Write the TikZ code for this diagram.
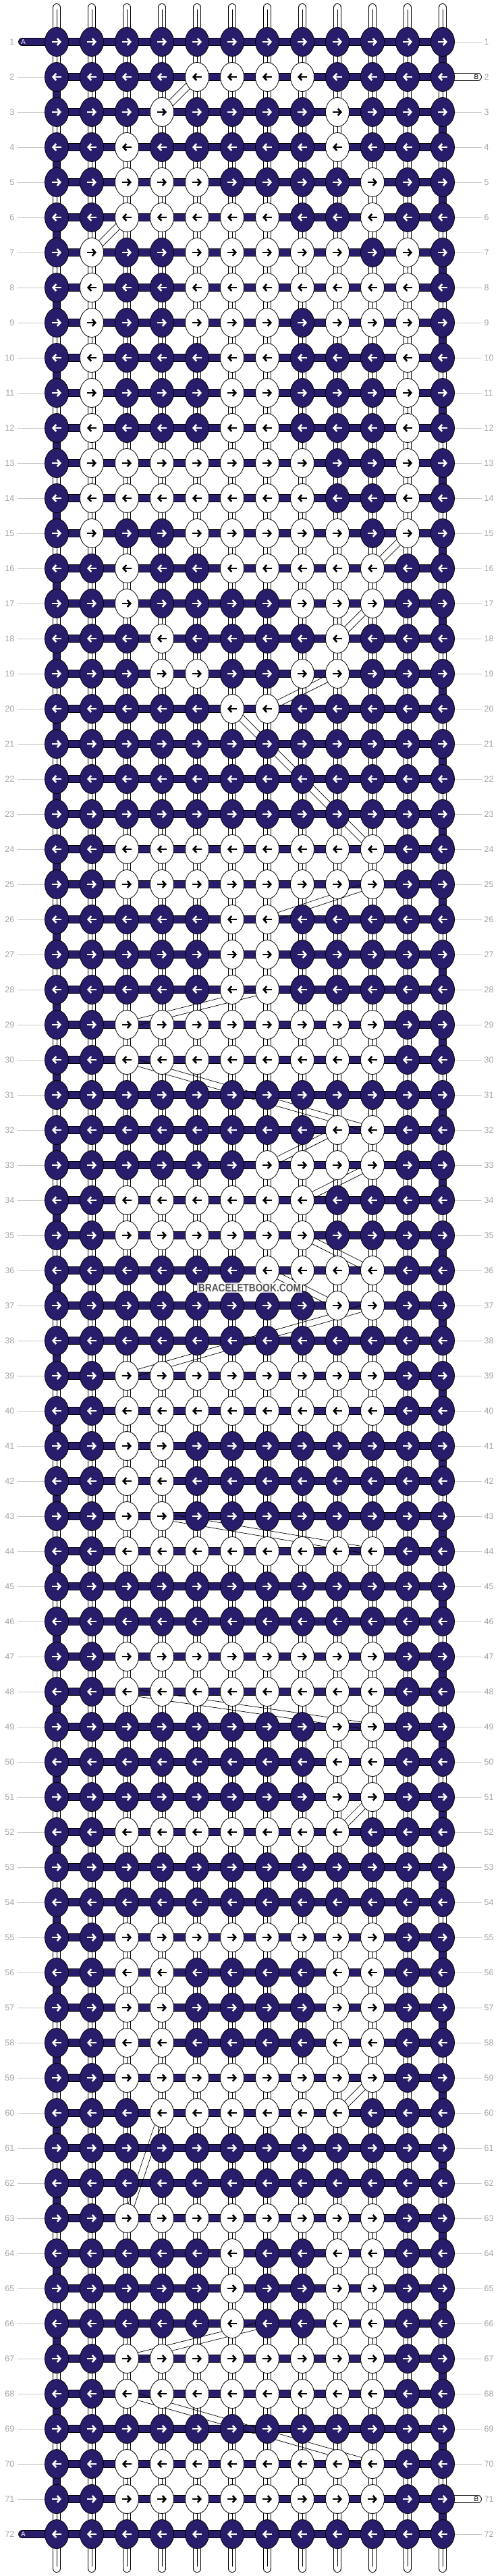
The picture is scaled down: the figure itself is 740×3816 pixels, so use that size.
\documentclass[tikz,border=0pt]{standalone}
\usepackage{fontspec}
\setmainfont{Liberation Sans}
\usepackage{xstring}
\usepackage{graphicx}
\usetikzlibrary{arrows.meta,shapes.geometric,calc}
\definecolor{thr}{RGB}{39,29,107}
\definecolor{labc}{RGB}{165,165,165}
\definecolor{linec}{RGB}{200,200,200}
\definecolor{wmark}{RGB}{85,85,85}
\pgfdeclarelayer{strips}
\pgfdeclarelayer{bars}
\pgfdeclarelayer{deco}
\pgfdeclarelayer{front}
\pgfsetlayers{strips,bars,deco,main,front}
\tikzset{
  knotbase/.style={ellipse, minimum width=35pt, minimum height=43pt, inner sep=0pt, draw=black, line width=0.8pt},
  knotD/.style={knotbase, fill=thr},
  knotW/.style={knotbase, fill=white},
  arrowD/.style={white, line width=2.6pt, -{Straight Barb[length=4.5pt,width=10pt]}},
  arrowW/.style={black, line width=2.6pt, -{Straight Barb[length=4.5pt,width=10pt]}},
  strip/.style={draw=black, line width=0.7pt, double=white, double distance=10.4pt, line cap=round},
  midline/.style={draw=black, line width=0.5pt},
  turn/.style={draw=black, line width=0.7pt, double=thr, double distance=10.4pt},
  hbar/.style={draw=black, line width=0.7pt, double=thr, double distance=10.4pt},
  astub/.style={hbar, line cap=round},
  bstub/.style={draw=black, line width=0.7pt, double=white, double distance=10.4pt, line cap=round},
  rowlab/.style={text=labc, font=\fontsize{12.5}{14}\selectfont, inner sep=0pt},
  stublab/.style={font=\fontsize{10}{10}\selectfont, inner sep=0pt},
  labline/.style={draw=linec, line width=0.9pt},
  decoy/.style={draw=black, line width=0.7pt},
}
\begin{document}
\begin{tikzpicture}[x=1pt,y=1pt]
\useasboundingbox (0,0) rectangle (740,-3816);
% knots
\foreach \row [count=\i] in {
111111111111,111100001111,111011110111,110111110111,110001111011,110000011011,
101100000101,101100000001,101100010001,101110011101,101110011101,101110011101,
100000001101,100000001101,101100000101,110110000011,110111100011,111011110111,
111001100111,111110011111,111111111111,111111111111,111111111111,110000000011,
110000000011,111110011111,111110011111,111110011111,110000000011,110000000011,
111111111111,111111110011,111111000011,110000001111,110000001111,111111000011,
111111110011,111111111111,110000000011,110000000011,110011111111,110011111111,
110011111111,110000000011,111111111111,111111111111,110000000011,110000000011,
111111110011,111111110011,111111110011,110000000111,111111111111,111111111111,
110000000011,110011110011,110011110011,110011110011,110000000011,111000000111,
111111111111,111111111111,110000000011,111110110011,111110110011,111110110011,
110000000011,110000000011,111111111111,110000000011,110000000011,111111111111}{
  \pgfmathsetmacro\yy{-62-52*(\i-1)}
  \foreach \c in {1,...,12}{
    \StrChar{\row}{\c}[\k]
    \pgfmathsetmacro\xx{84+52*(\c-1)}
    \ifnum\k=1
      \node[knotD] (k-\i-\c) at (\xx,\yy) {};
      \ifodd\i\relax
        \draw[arrowD] ([xshift=-7pt]k-\i-\c.center) -- ([xshift=7pt]k-\i-\c.center);
      \else
        \draw[arrowD] ([xshift=7pt]k-\i-\c.center) -- ([xshift=-7pt]k-\i-\c.center);
      \fi
    \else
      \node[knotW] (k-\i-\c) at (\xx,\yy) {};
      \ifodd\i\relax
        \draw[arrowW] ([xshift=-7pt]k-\i-\c.center) -- ([xshift=7pt]k-\i-\c.center);
      \else
        \draw[arrowW] ([xshift=7pt]k-\i-\c.center) -- ([xshift=-7pt]k-\i-\c.center);
      \fi
    \fi
  }
}
% vertical threads
\begin{pgfonlayer}{strips}
  \fill[white] (0,0) rectangle (740,-3816);
  \foreach \c in {1,...,12}{
    \pgfmathsetmacro\xx{84+52*(\c-1)}
    \coordinate (top-\c) at (\xx,-11);
    \coordinate (bot-\c) at (\xx,-3805);
    \draw[strip] (top-\c) -- (bot-\c);
    \draw[midline] ([yshift=-3pt]top-\c) -- ([yshift=3pt]bot-\c);
  }
\end{pgfonlayer}
% horizontal threads, turns, labels
\begin{pgfonlayer}{bars}
  \foreach \i in {1,...,72}{
    \draw[hbar] (k-\i-1.center) -- (k-\i-12.center);
    \pgfmathsetmacro\yy{-62-52*(\i-1)}
    \node[rowlab, anchor=east] (ll-\i) at (21.5,\yy) {\i};
    \node[rowlab, anchor=west] (rl-\i) at (717.5,\yy) {\i};
  }
  \foreach \i in {1,...,71}{
    \pgfmathtruncatemacro\j{\i+1}
    \ifodd\i\relax
      \draw[turn] (k-\i-12.center) -- (k-\j-12.center);
    \else
      \draw[turn] (k-\i-1.center) -- (k-\j-1.center);
    \fi
  }
  \foreach \i in {2,...,71}{
    \draw[labline] ([xshift=4.5pt]ll-\i.east) -- (k-\i-1.west);
  }
  \foreach \i in {1,3,4,...,70,72}{
    \draw[labline] (k-\i-12.east) -- ([xshift=-4pt]rl-\i.west);
  }
  \foreach \i in {1,72}{
    \pgfmathsetmacro\yy{-62-52*(\i-1)}
    \coordinate (a-\i) at (33,\yy);
    \draw[astub] (a-\i) -- (k-\i-1.center);
    \node[stublab, text=white] (alab-\i) at (34.5,\yy) {A};
  }
  \foreach \i in {2,71}{
    \pgfmathsetmacro\yy{-62-52*(\i-1)}
    \coordinate (b-\i) at (708,\yy);
    \draw[bstub] (k-\i-12.center) -- (b-\i);
    \node[stublab, text=black] (blab-\i) at (706,\yy) {B};
  }
\end{pgfonlayer}
% stray thread outlines
\begin{pgfonlayer}{deco}
  \foreach \ca/\ra/\cb/\rb in {5/2/4/3, 3/6/2/7, 11/15/10/16, 10/17/9/18, 9/19/7/20,
      6/20/10/24, 10/25/7/26, 7/28/3/29, 3/30/10/32, 9/32/7/33, 10/33/8/34,
      8/35/10/36, 7/36/9/37, 10/37/3/39, 4/43/10/44, 3/48/10/49, 10/51/9/52,
      10/59/9/60, 4/60/3/63, 7/66/3/67, 3/68/10/70}{
    \draw[decoy] ($(k-\ra-\ca.center)!4.8pt!90:(k-\rb-\cb.center)$) -- ($(k-\rb-\cb.center)!4.8pt!-90:(k-\ra-\ca.center)$);
    \draw[decoy] ($(k-\ra-\ca.center)!4.8pt!-90:(k-\rb-\cb.center)$) -- ($(k-\rb-\cb.center)!4.8pt!90:(k-\ra-\ca.center)$);
  }
\end{pgfonlayer}
\begin{pgfonlayer}{front}
  \node[fill=white, fill opacity=0.8, text opacity=1, text=wmark, inner sep=1.5pt,
        font=\fontsize{16}{16}\selectfont\bfseries] (wm) at (370,-1907.5)
        {\scalebox{0.86}[1]{BRACELETBOOK.COM}};
\end{pgfonlayer}
\end{tikzpicture}
\end{document}
